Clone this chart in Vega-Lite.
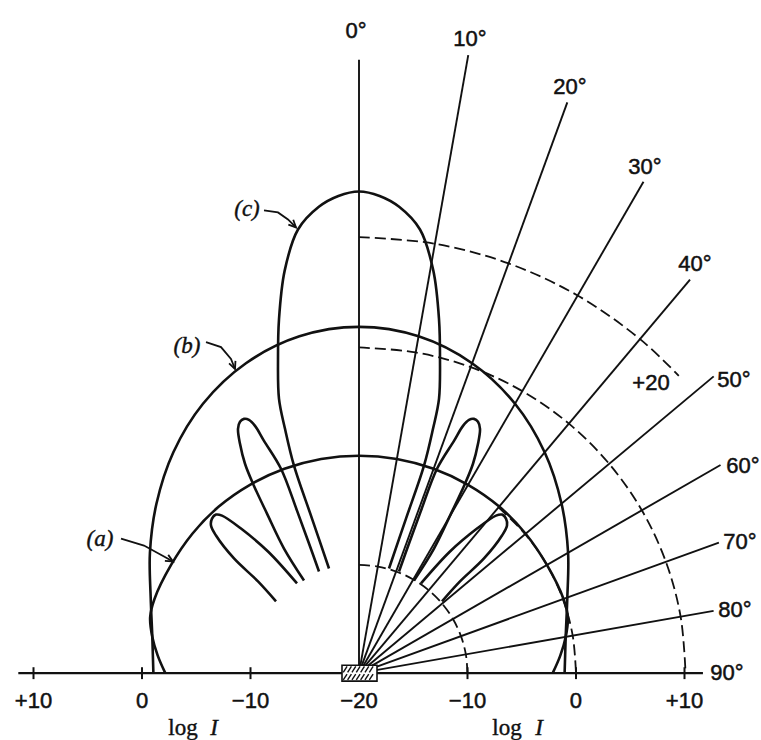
{
  "$schema": "https://vega.github.io/schema/vega-lite/v6.json",
  "width": 761,
  "height": 740,
  "autosize": {"type": "fit", "contains": "padding"},
  "padding": 0,
  "background": "white",
  "config": {"view": {"stroke": null}},
  "datasets": {
    "curves": [
      {"g": "a", "i": 1, "x": -17.85, "y": 0},
      {"g": "a", "i": 2, "x": -18.55, "y": 1.62},
      {"g": "a", "i": 3, "x": -19.05, "y": 3.35},
      {"g": "a", "i": 4, "x": -19.25, "y": 5.16},
      {"g": "a", "i": 5, "x": -18.85, "y": 6.86},
      {"g": "a", "i": 6, "x": -17.32, "y": 10.0},
      {"g": "a", "i": 7, "x": -15.359, "y": 12.888},
      {"g": "a", "i": 8, "x": -12.92, "y": 15.397},
      {"g": "a", "i": 9, "x": -10.05, "y": 17.407},
      {"g": "a", "i": 10, "x": -6.875, "y": 18.888},
      {"g": "a", "i": 11, "x": -3.49, "y": 19.795},
      {"g": "a", "i": 12, "x": 0, "y": 20.1},
      {"g": "a", "i": 13, "x": 3.49, "y": 19.795},
      {"g": "a", "i": 14, "x": 6.875, "y": 18.888},
      {"g": "a", "i": 15, "x": 10.05, "y": 17.407},
      {"g": "a", "i": 16, "x": 12.92, "y": 15.397},
      {"g": "a", "i": 17, "x": 15.359, "y": 12.888},
      {"g": "a", "i": 18, "x": 17.32, "y": 10.0},
      {"g": "a", "i": 19, "x": 18.85, "y": 6.86},
      {"g": "a", "i": 20, "x": 19.25, "y": 5.16},
      {"g": "a", "i": 21, "x": 19.05, "y": 3.35},
      {"g": "a", "i": 22, "x": 18.55, "y": 1.62},
      {"g": "a", "i": 23, "x": 17.85, "y": 0},
      {"g": "b", "i": 1, "x": -18.95, "y": 0},
      {"g": "b", "i": 2, "x": -19.0, "y": 1.66},
      {"g": "b", "i": 3, "x": -19.05, "y": 3.36},
      {"g": "b", "i": 4, "x": -19.2, "y": 6.99},
      {"g": "b", "i": 5, "x": -19.27, "y": 11.13},
      {"g": "b", "i": 6, "x": -18.67, "y": 15.66},
      {"g": "b", "i": 7, "x": -17.12, "y": 20.4},
      {"g": "b", "i": 8, "x": -14.38, "y": 24.9},
      {"g": "b", "i": 9, "x": -10.42, "y": 28.64},
      {"g": "b", "i": 10, "x": -5.49, "y": 31.13},
      {"g": "b", "i": 11, "x": 0, "y": 32.0},
      {"g": "b", "i": 12, "x": 5.49, "y": 31.13},
      {"g": "b", "i": 13, "x": 10.42, "y": 28.64},
      {"g": "b", "i": 14, "x": 14.38, "y": 24.9},
      {"g": "b", "i": 15, "x": 17.12, "y": 20.4},
      {"g": "b", "i": 16, "x": 18.67, "y": 15.66},
      {"g": "b", "i": 17, "x": 19.27, "y": 11.13},
      {"g": "b", "i": 18, "x": 19.2, "y": 6.99},
      {"g": "b", "i": 19, "x": 19.05, "y": 3.36},
      {"g": "b", "i": 20, "x": 19.0, "y": 1.66},
      {"g": "b", "i": 21, "x": 18.95, "y": 0},
      {"g": "cM", "i": 1, "x": -2.765, "y": 9.677},
      {"g": "cM", "i": 2, "x": -4.332, "y": 14.286},
      {"g": "cM", "i": 3, "x": -5.991, "y": 19.171},
      {"g": "cM", "i": 4, "x": -6.82, "y": 22.581},
      {"g": "cM", "i": 5, "x": -7.373, "y": 25.346},
      {"g": "cM", "i": 6, "x": -7.465, "y": 29.032},
      {"g": "cM", "i": 7, "x": -7.373, "y": 32.719},
      {"g": "cM", "i": 8, "x": -6.85, "y": 37.2},
      {"g": "cM", "i": 9, "x": -5.622, "y": 41.0},
      {"g": "cM", "i": 10, "x": -3.7, "y": 43.1},
      {"g": "cM", "i": 11, "x": -1.9, "y": 44.1},
      {"g": "cM", "i": 12, "x": 0, "y": 44.516},
      {"g": "cM", "i": 13, "x": 1.9, "y": 44.1},
      {"g": "cM", "i": 14, "x": 3.7, "y": 43.1},
      {"g": "cM", "i": 15, "x": 5.622, "y": 41.0},
      {"g": "cM", "i": 16, "x": 6.85, "y": 37.2},
      {"g": "cM", "i": 17, "x": 7.373, "y": 32.719},
      {"g": "cM", "i": 18, "x": 7.465, "y": 29.032},
      {"g": "cM", "i": 19, "x": 7.373, "y": 25.346},
      {"g": "cM", "i": 20, "x": 6.82, "y": 22.581},
      {"g": "cM", "i": 21, "x": 5.991, "y": 19.171},
      {"g": "cM", "i": 22, "x": 4.332, "y": 14.286},
      {"g": "cM", "i": 23, "x": 2.765, "y": 9.677},
      {"g": "cL1", "i": 1, "x": -5.069, "y": 8.571},
      {"g": "cL1", "i": 2, "x": -6.912, "y": 11.521},
      {"g": "cL1", "i": 3, "x": -8.479, "y": 14.747},
      {"g": "cL1", "i": 4, "x": -9.77, "y": 17.512},
      {"g": "cL1", "i": 5, "x": -10.507, "y": 19.355},
      {"g": "cL1", "i": 6, "x": -10.968, "y": 21.198},
      {"g": "cL1", "i": 7, "x": -11.152, "y": 22.581},
      {"g": "cL1", "i": 8, "x": -10.968, "y": 23.226},
      {"g": "cL1", "i": 9, "x": -10.599, "y": 23.502},
      {"g": "cL1", "i": 10, "x": -10.138, "y": 23.41},
      {"g": "cL1", "i": 11, "x": -9.585, "y": 22.857},
      {"g": "cL1", "i": 12, "x": -8.756, "y": 21.475},
      {"g": "cL1", "i": 13, "x": -7.189, "y": 18.894},
      {"g": "cL1", "i": 14, "x": -5.714, "y": 15.023},
      {"g": "cL1", "i": 15, "x": -4.608, "y": 11.982},
      {"g": "cL1", "i": 16, "x": -3.687, "y": 9.401},
      {"g": "cL2", "i": 1, "x": -7.65, "y": 6.636},
      {"g": "cL2", "i": 2, "x": -9.309, "y": 8.479},
      {"g": "cL2", "i": 3, "x": -11.521, "y": 10.599},
      {"g": "cL2", "i": 4, "x": -13.18, "y": 12.719},
      {"g": "cL2", "i": 5, "x": -13.641, "y": 13.641},
      {"g": "cL2", "i": 6, "x": -13.548, "y": 14.286},
      {"g": "cL2", "i": 7, "x": -13.18, "y": 14.654},
      {"g": "cL2", "i": 8, "x": -12.627, "y": 14.562},
      {"g": "cL2", "i": 9, "x": -10.876, "y": 13.364},
      {"g": "cL2", "i": 10, "x": -8.387, "y": 11.244},
      {"g": "cL2", "i": 11, "x": -5.714, "y": 8.295},
      {"g": "cR1", "i": 1, "x": 5.069, "y": 8.571},
      {"g": "cR1", "i": 2, "x": 6.912, "y": 11.521},
      {"g": "cR1", "i": 3, "x": 8.479, "y": 14.747},
      {"g": "cR1", "i": 4, "x": 9.77, "y": 17.512},
      {"g": "cR1", "i": 5, "x": 10.507, "y": 19.355},
      {"g": "cR1", "i": 6, "x": 10.968, "y": 21.198},
      {"g": "cR1", "i": 7, "x": 11.152, "y": 22.581},
      {"g": "cR1", "i": 8, "x": 10.968, "y": 23.226},
      {"g": "cR1", "i": 9, "x": 10.599, "y": 23.502},
      {"g": "cR1", "i": 10, "x": 10.138, "y": 23.41},
      {"g": "cR1", "i": 11, "x": 9.585, "y": 22.857},
      {"g": "cR1", "i": 12, "x": 8.756, "y": 21.475},
      {"g": "cR1", "i": 13, "x": 7.189, "y": 18.894},
      {"g": "cR1", "i": 14, "x": 5.714, "y": 15.023},
      {"g": "cR1", "i": 15, "x": 4.608, "y": 11.982},
      {"g": "cR1", "i": 16, "x": 3.687, "y": 9.401},
      {"g": "cR2", "i": 1, "x": 7.65, "y": 6.636},
      {"g": "cR2", "i": 2, "x": 9.309, "y": 8.479},
      {"g": "cR2", "i": 3, "x": 11.521, "y": 10.599},
      {"g": "cR2", "i": 4, "x": 13.18, "y": 12.719},
      {"g": "cR2", "i": 5, "x": 13.641, "y": 13.641},
      {"g": "cR2", "i": 6, "x": 13.548, "y": 14.286},
      {"g": "cR2", "i": 7, "x": 13.18, "y": 14.654},
      {"g": "cR2", "i": 8, "x": 12.627, "y": 14.562},
      {"g": "cR2", "i": 9, "x": 10.876, "y": 13.364},
      {"g": "cR2", "i": 10, "x": 8.387, "y": 11.244},
      {"g": "cR2", "i": 11, "x": 5.714, "y": 8.295}
    ],
    "dashed": [
      {"g": "r10", "i": 1, "x": 0, "y": 10},
      {"g": "r10", "i": 2, "x": 1.736, "y": 9.848},
      {"g": "r10", "i": 3, "x": 3.42, "y": 9.397},
      {"g": "r10", "i": 4, "x": 5.0, "y": 8.66},
      {"g": "r10", "i": 5, "x": 6.428, "y": 7.66},
      {"g": "r10", "i": 6, "x": 7.66, "y": 6.428},
      {"g": "r10", "i": 7, "x": 8.66, "y": 5.0},
      {"g": "r10", "i": 8, "x": 9.397, "y": 3.42},
      {"g": "r10", "i": 9, "x": 9.848, "y": 1.736},
      {"g": "r10", "i": 10, "x": 10, "y": 0},
      {"g": "r20", "i": 1, "x": 12.856, "y": 15.321},
      {"g": "r20", "i": 2, "x": 15.321, "y": 12.856},
      {"g": "r20", "i": 3, "x": 17.321, "y": 10.0},
      {"g": "r20", "i": 4, "x": 18.794, "y": 6.84},
      {"g": "r20", "i": 5, "x": 19.696, "y": 3.473},
      {"g": "r20", "i": 6, "x": 20, "y": 0},
      {"g": "r30", "i": 1, "x": 0, "y": 30.1},
      {"g": "r30", "i": 2, "x": 5.227, "y": 29.643},
      {"g": "r30", "i": 3, "x": 10.295, "y": 28.285},
      {"g": "r30", "i": 4, "x": 15.05, "y": 26.067},
      {"g": "r30", "i": 5, "x": 19.348, "y": 23.058},
      {"g": "r30", "i": 6, "x": 23.058, "y": 19.348},
      {"g": "r30", "i": 7, "x": 26.067, "y": 15.05},
      {"g": "r30", "i": 8, "x": 28.285, "y": 10.295},
      {"g": "r30", "i": 9, "x": 29.643, "y": 5.227},
      {"g": "r30", "i": 10, "x": 30.1, "y": 0},
      {"g": "r40", "i": 1, "x": 0, "y": 40.3},
      {"g": "r40", "i": 2, "x": 6.998, "y": 39.688},
      {"g": "r40", "i": 3, "x": 13.783, "y": 37.87},
      {"g": "r40", "i": 4, "x": 20.15, "y": 34.901},
      {"g": "r40", "i": 5, "x": 25.905, "y": 30.872},
      {"g": "r40", "i": 6, "x": 29.474, "y": 27.484}
    ],
    "rays": [
      {"x": 0, "y": 0, "x2": 0, "y2": 56.68},
      {"x": 0, "y": 0, "x2": 10.07, "y2": 57.12},
      {"x": 0, "y": 0, "x2": 19.2, "y2": 52.75},
      {"x": 0, "y": 0, "x2": 26.22, "y2": 45.41},
      {"x": 0, "y": 0, "x2": 30.51, "y2": 36.36},
      {"x": 0, "y": 0, "x2": 32.69, "y2": 27.43},
      {"x": 0, "y": 0, "x2": 33.32, "y2": 19.24},
      {"x": 0, "y": 0, "x2": 33.17, "y2": 12.07},
      {"x": 0, "y": 0, "x2": 32.68, "y2": 5.76}
    ],
    "base": [{"x": -31.4, "y": 0, "x2": 31.7, "y2": 0}],
    "ticks": [
      {"x": -30, "y": -0.55, "x2": -30, "y2": 0.55},
      {"x": -20, "y": -0.55, "x2": -20, "y2": 0.55},
      {"x": -10, "y": -0.55, "x2": -10, "y2": 0.55},
      {"x": 10, "y": -0.55, "x2": 10, "y2": 0.55},
      {"x": 20, "y": -0.55, "x2": 20, "y2": 0.55},
      {"x": 30, "y": -0.55, "x2": 30, "y2": 0.55}
    ],
    "box": [{"x": -1.567, "y": -0.737, "x2": 1.659, "y2": 0.737}],
    "hatch": [
      {"x": -1.45, "y": 0.08, "x2": -1.1, "y2": 0.62},
      {"x": -1.05, "y": 0.08, "x2": -0.7, "y2": 0.62},
      {"x": -0.65, "y": 0.08, "x2": -0.3, "y2": 0.62},
      {"x": -0.25, "y": 0.08, "x2": 0.1, "y2": 0.62},
      {"x": 0.15, "y": 0.08, "x2": 0.5, "y2": 0.62},
      {"x": 0.55, "y": 0.08, "x2": 0.9, "y2": 0.62},
      {"x": 0.95, "y": 0.08, "x2": 1.3, "y2": 0.62},
      {"x": -1.45, "y": -0.62, "x2": -1.1, "y2": -0.08},
      {"x": -1.05, "y": -0.62, "x2": -0.7, "y2": -0.08},
      {"x": -0.65, "y": -0.62, "x2": -0.3, "y2": -0.08},
      {"x": -0.25, "y": -0.62, "x2": 0.1, "y2": -0.08},
      {"x": 0.15, "y": -0.62, "x2": 0.5, "y2": -0.08},
      {"x": 0.55, "y": -0.62, "x2": 0.9, "y2": -0.08},
      {"x": 0.95, "y": -0.62, "x2": 1.3, "y2": -0.08}
    ],
    "arrows": [
      {"g": "c", "i": 1, "x": -8.756, "y": 42.765},
      {"g": "c", "i": 2, "x": -7.465, "y": 42.581},
      {"g": "c", "i": 3, "x": -6.544, "y": 41.936},
      {"g": "c", "i": 4, "x": -5.806, "y": 41.198},
      {"g": "ch", "i": 1, "x": -6.511, "y": 41.454},
      {"g": "ch", "i": 2, "x": -5.806, "y": 41.198},
      {"g": "ch", "i": 3, "x": -6.062, "y": 41.903},
      {"g": "b", "i": 1, "x": -14.101, "y": 30.599},
      {"g": "b", "i": 2, "x": -12.719, "y": 30.138},
      {"g": "b", "i": 3, "x": -11.797, "y": 29.032},
      {"g": "b", "i": 4, "x": -11.429, "y": 28.111},
      {"g": "bh", "i": 1, "x": -11.976, "y": 28.624},
      {"g": "bh", "i": 2, "x": -11.429, "y": 28.111},
      {"g": "bh", "i": 3, "x": -11.386, "y": 28.859},
      {"g": "a", "i": 1, "x": -21.935, "y": 12.442},
      {"g": "a", "i": 2, "x": -19.816, "y": 11.797},
      {"g": "a", "i": 3, "x": -17.972, "y": 10.783},
      {"g": "a", "i": 4, "x": -17.143, "y": 10.323},
      {"g": "ah", "i": 1, "x": -17.891, "y": 10.376},
      {"g": "ah", "i": 2, "x": -17.143, "y": 10.323},
      {"g": "ah", "i": 3, "x": -17.583, "y": 10.931}
    ],
    "angleLabels": [
      {"t": "0°", "x": -0.276, "y": 59.355},
      {"t": "10°", "x": 10.23, "y": 58.618},
      {"t": "20°", "x": 19.447, "y": 54.194},
      {"t": "30°", "x": 26.359, "y": 46.82},
      {"t": "40°", "x": 30.968, "y": 37.788},
      {"t": "50°", "x": 34.562, "y": 27.097},
      {"t": "60°", "x": 35.392, "y": 19.171},
      {"t": "70°", "x": 35.115, "y": 12.166},
      {"t": "80°", "x": 34.654, "y": 5.806},
      {"t": "90°", "x": 33.917, "y": 0},
      {"t": "+20", "x": 26.912, "y": 26.82}
    ],
    "numLabels": [
      {"t": "+10", "x": -30, "y": -3.226},
      {"t": "0", "x": -20, "y": -3.226},
      {"t": "−10", "x": -10, "y": -3.226},
      {"t": "−20", "x": 0, "y": -3.226},
      {"t": "−10", "x": 10, "y": -3.226},
      {"t": "0", "x": 20, "y": -3.226},
      {"t": "+10", "x": 30, "y": -3.226}
    ],
    "logLabels": [
      {"t": "log", "x": -16.22, "y": -5.714},
      {"t": "log", "x": 13.64, "y": -5.714}
    ],
    "italicLabels": [
      {"t": "I", "x": -13.36, "y": -5.714},
      {"t": "I", "x": 16.59, "y": -5.714}
    ],
    "curveLabels": [
      {"t": "(a)", "x": -23.871, "y": 12.442},
      {"t": "(b)", "x": -15.853, "y": 30.23},
      {"t": "(c)", "x": -10.323, "y": 42.857}
    ]
  },
  "encoding": {
    "x": {"field": "x", "type": "quantitative", "scale": {"domain": [-33.088, 37.051], "nice": false, "zero": false}, "axis": null},
    "y": {"field": "y", "type": "quantitative", "scale": {"domain": [-5.991, 62.212], "nice": false, "zero": false}, "axis": null}
  },
  "layer": [
    {
      "data": {"name": "dashed"},
      "mark": {"type": "line", "interpolate": "catmull-rom", "stroke": "#111", "strokeWidth": 1.8, "strokeDash": [11, 5]},
      "encoding": {"detail": {"field": "g"}, "order": {"field": "i", "type": "quantitative"}}
    },
    {
      "data": {"name": "rays"},
      "mark": {"type": "rule", "stroke": "#111", "strokeWidth": 1.9},
      "encoding": {"x2": {"field": "x2"}, "y2": {"field": "y2"}}
    },
    {
      "data": {"name": "curves"},
      "mark": {"type": "line", "interpolate": "catmull-rom", "stroke": "#111", "strokeWidth": 2.6},
      "encoding": {"detail": {"field": "g"}, "order": {"field": "i", "type": "quantitative"}}
    },
    {
      "data": {"name": "base"},
      "mark": {"type": "rule", "stroke": "#111", "strokeWidth": 2.4},
      "encoding": {"x2": {"field": "x2"}, "y2": {"field": "y2"}}
    },
    {
      "data": {"name": "ticks"},
      "mark": {"type": "rule", "stroke": "#111", "strokeWidth": 2},
      "encoding": {"x2": {"field": "x2"}, "y2": {"field": "y2"}}
    },
    {
      "data": {"name": "box"},
      "mark": {"type": "rect", "fill": "white", "stroke": "#111", "strokeWidth": 1.6},
      "encoding": {"x2": {"field": "x2"}, "y2": {"field": "y2"}}
    },
    {
      "data": {"name": "hatch"},
      "mark": {"type": "rule", "stroke": "#111", "strokeWidth": 1.4},
      "encoding": {"x2": {"field": "x2"}, "y2": {"field": "y2"}}
    },
    {
      "data": {"name": "arrows"},
      "mark": {"type": "line", "interpolate": "linear", "stroke": "#111", "strokeWidth": 1.8},
      "encoding": {"detail": {"field": "g"}, "order": {"field": "i", "type": "quantitative"}}
    },
    {
      "data": {"name": "angleLabels"},
      "mark": {"type": "text", "font": "Liberation Sans", "fontSize": 22, "align": "center", "baseline": "middle", "fill": "#111", "stroke": "#111", "strokeWidth": 0.5},
      "encoding": {"text": {"field": "t"}}
    },
    {
      "data": {"name": "numLabels"},
      "mark": {"type": "text", "font": "Liberation Sans", "fontSize": 22, "align": "center", "baseline": "alphabetic", "fill": "#111", "stroke": "#111", "strokeWidth": 0.5},
      "encoding": {"text": {"field": "t"}}
    },
    {
      "data": {"name": "logLabels"},
      "mark": {"type": "text", "font": "Liberation Serif", "fontSize": 23, "align": "center", "baseline": "alphabetic", "fill": "#111", "stroke": "#111", "strokeWidth": 0.4},
      "encoding": {"text": {"field": "t"}}
    },
    {
      "data": {"name": "italicLabels"},
      "mark": {"type": "text", "font": "Liberation Serif", "fontStyle": "italic", "fontSize": 23, "align": "center", "baseline": "alphabetic", "fill": "#111", "stroke": "#111", "strokeWidth": 0.4},
      "encoding": {"text": {"field": "t"}}
    },
    {
      "data": {"name": "curveLabels"},
      "mark": {"type": "text", "font": "Liberation Serif", "fontStyle": "italic", "fontSize": 23, "align": "center", "baseline": "middle", "fill": "#111", "stroke": "#111", "strokeWidth": 0.4},
      "encoding": {"text": {"field": "t"}}
    }
  ]
}
